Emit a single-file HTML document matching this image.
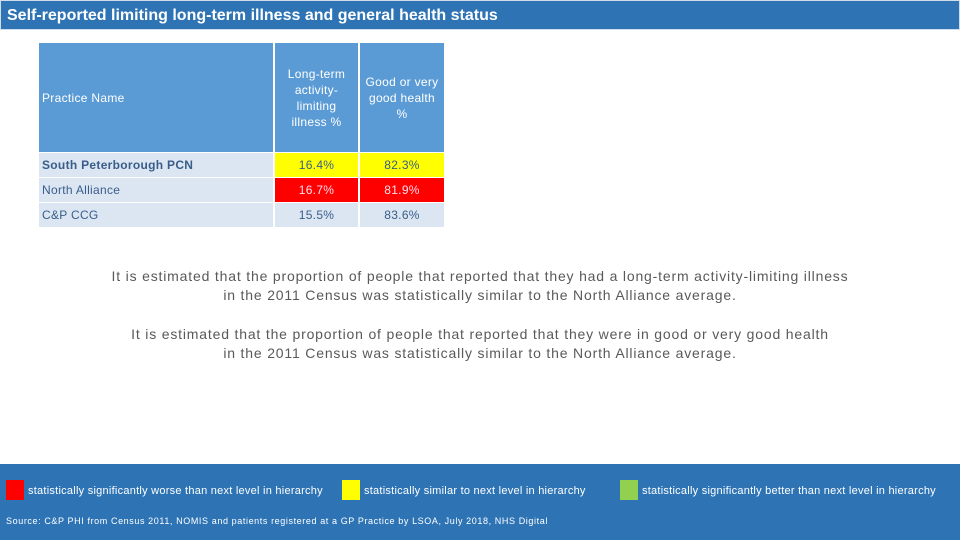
<!DOCTYPE html>
<html><head><meta charset="utf-8"><style>
body{margin:0;width:960px;height:540px;background:#fff;position:relative;overflow:hidden;font-family:"Liberation Sans",Arial,sans-serif}
.a{position:absolute;box-sizing:border-box}
.title{left:0;top:0;width:960px;height:30px;background:#2e74b5;color:#fff;font-weight:bold;font-size:16px;padding:6px 0 0 6px;border:1px solid #d0dcea}
.c{display:flex;align-items:center;font-size:12px;letter-spacing:0.3px}
.h{background:#5b9bd5;color:#fff}
.r{background:#dce6f2;color:#385d8a}
.ctr{justify-content:center;text-align:center}
.hp{padding:0 10px;line-height:16px}
.txt{left:0;width:960px;text-align:center;color:#595959;font-size:14px;letter-spacing:0.82px;line-height:19px}
.foot{left:0;top:464px;width:960px;height:76px;background:#2e74b5}
.sw{width:18px;height:20px}
.lg{color:#fff;font-size:11px;letter-spacing:0.25px;white-space:nowrap}
</style></head><body>
<div class="a title">Self-reported limiting long-term illness and general health status</div>
<div>
<div class="a c h" style="left:39px;top:43px;width:234px;height:109px;padding-left:3px">Practice Name</div>
<div class="a c h ctr hp" style="left:275px;top:43px;width:83px;height:109px">Long-term activity-limiting illness %</div>
<div class="a c h ctr hp" style="left:360px;top:43px;width:84px;height:109px;padding:0 2px">Good or very good health %</div>

<div class="a c r" style="left:39px;top:153px;width:234px;height:24px;padding-left:3px;font-weight:bold">South Peterborough PCN</div>
<div class="a c ctr" style="left:275px;top:153px;width:83px;height:24px;background:#ffff00;color:#385d8a">16.4%</div>
<div class="a c ctr" style="left:360px;top:153px;width:84px;height:24px;background:#ffff00;color:#385d8a">82.3%</div>

<div class="a c r" style="left:39px;top:178px;width:234px;height:24px;padding-left:3px">North Alliance</div>
<div class="a c ctr" style="left:275px;top:178px;width:83px;height:24px;background:#ff0000;color:#fde">16.7%</div>
<div class="a c ctr" style="left:360px;top:178px;width:84px;height:24px;background:#ff0000;color:#fde">81.9%</div>

<div class="a c r" style="left:39px;top:203px;width:234px;height:24px;padding-left:3px">C&amp;P CCG</div>
<div class="a c r ctr" style="left:275px;top:203px;width:83px;height:24px">15.5%</div>
<div class="a c r ctr" style="left:360px;top:203px;width:84px;height:24px">83.6%</div>
</div>
<div class="a txt" style="top:267px">It is estimated that the proportion of people that reported that they had a long-term activity-limiting illness<br>in the 2011 Census was statistically similar to the North Alliance average.</div>
<div class="a txt" style="top:325px">It is estimated that the proportion of people that reported that they were in good or very good health<br>in the 2011 Census was statistically similar to the North Alliance average.</div>
<div class="a foot"></div>
<div class="a sw" style="left:6px;top:480px;background:#ff0000"></div>
<div class="a lg" style="left:28px;top:485px">statistically significantly worse than next level in hierarchy</div>
<div class="a sw" style="left:342px;top:480px;background:#ffff00"></div>
<div class="a lg" style="left:364px;top:485px">statistically similar to next level in hierarchy</div>
<div class="a sw" style="left:620px;top:480px;background:#92d050"></div>
<div class="a lg" style="left:642px;top:485px">statistically significantly better than next level in hierarchy</div>
<div class="a lg" style="left:6px;top:516px;font-size:9px;letter-spacing:0.6px">Source: C&amp;P PHI from Census 2011, NOMIS and patients registered at a GP Practice by LSOA, July 2018, NHS Digital</div>
</body></html>
